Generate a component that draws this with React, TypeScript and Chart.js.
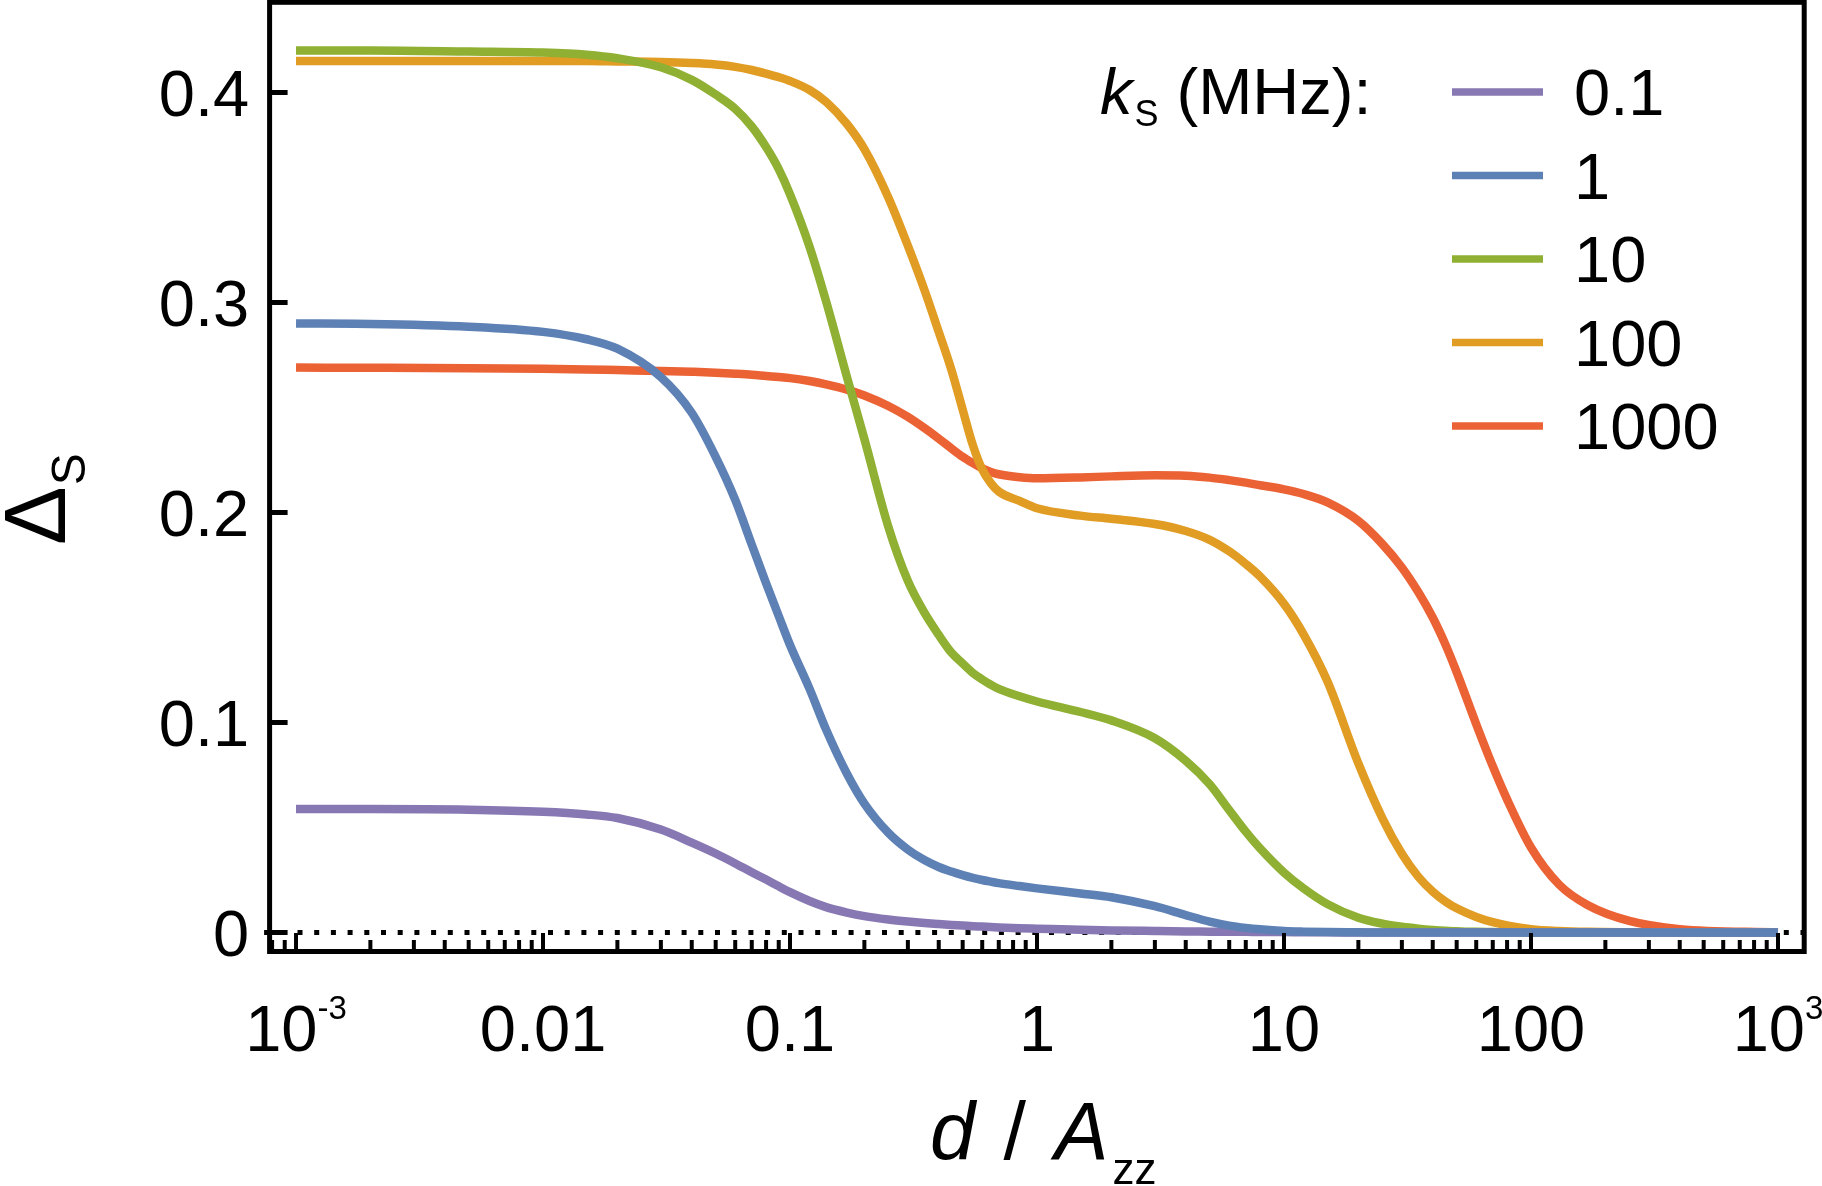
import { useEffect, useRef } from 'react';
import Chart from 'chart.js/auto';

// d / Azz sample points (shared by every curve)
const dValues = [
  0.001, 0.002, 0.005, 0.01, 0.015, 0.02, 0.03, 0.04, 0.05, 0.06, 0.07, 0.08,
  0.09, 0.1, 0.12, 0.14, 0.17, 0.2, 0.25, 0.3, 0.35, 0.4, 0.45, 0.5, 0.55, 0.6, 0.65, 0.7, 0.85, 1,
  1.5, 2, 3, 4, 5, 6, 7, 8,
  10, 12, 15, 20, 25, 30, 35, 40, 45, 50, 60, 70, 80, 100,
  130, 170, 250, 400, 1000,
];

// Delta_S for each k_S (MHz)
const ks01 = [
  0.0588, 0.0588, 0.0585, 0.0575, 0.0562, 0.0545, 0.049, 0.0428, 0.0376, 0.0329, 0.0287, 0.0252,
  0.022, 0.0192, 0.015, 0.0121, 0.0095, 0.0078, 0.0062, 0.0052, 0.0045, 0.004, 0.0036, 0.0033, 0.003, 0.0028, 0.0026, 0.0024, 0.002, 0.0018,
  0.0013, 0.001, 0.0007, 0.0005, 0.0004, 0.0003, 0.0003, 0.0002,
  0.0002, 0.0001, 0.0001, 0, 0, 0, 0, 0, 0, 0, 0, 0, 0, 0,
  0, 0, 0, 0, 0,
];
const ks1 = [
  0.29, 0.2898, 0.2885, 0.286, 0.2825, 0.278, 0.2645, 0.2475, 0.2265, 0.206, 0.1847, 0.1663,
  0.1507, 0.1369, 0.1160, 0.0966, 0.0756, 0.0614, 0.0475, 0.0395, 0.0345, 0.0312, 0.029, 0.0273, 0.026, 0.025, 0.0242, 0.0235, 0.0221, 0.021,
  0.0186, 0.0168, 0.0125, 0.0083, 0.0052, 0.0033, 0.0022, 0.0015,
  0.0007, 0.0004, 0.0002, 0.0001, 0, 0, 0, 0, 0, 0, 0, 0, 0, 0,
  0, 0, 0, 0, 0,
];
const ks10 = [
  0.42, 0.42, 0.4195, 0.419, 0.418, 0.4163, 0.412, 0.406, 0.399, 0.3922, 0.3838, 0.374,
  0.3635, 0.3515, 0.3265, 0.3005, 0.2645, 0.235, 0.1932, 0.1674, 0.1523, 0.1417, 0.1333, 0.1281, 0.1236, 0.1205, 0.118, 0.116, 0.1125, 0.11,
  0.105, 0.101, 0.0925, 0.0818, 0.0706, 0.0583, 0.048, 0.04,
  0.0285, 0.021, 0.0135, 0.007, 0.0042, 0.0027, 0.0018, 0.0012, 0.0008, 0.0006, 0.0003, 0.0002, 0.0001, 0,
  0, 0, 0, 0, 0,
];
const ks100 = [
  0.415, 0.415, 0.415, 0.415, 0.415, 0.4148, 0.4145, 0.414, 0.4133, 0.4122, 0.4107, 0.409,
  0.4073, 0.4055, 0.4012, 0.3955, 0.385, 0.373, 0.35, 0.327, 0.306, 0.286, 0.268, 0.249, 0.232, 0.2205, 0.214, 0.21, 0.2055, 0.202,
  0.1985, 0.197, 0.1945, 0.1912, 0.187, 0.1815, 0.1755, 0.1695,
  0.1565, 0.142, 0.1195, 0.0805, 0.0545, 0.0375, 0.0265, 0.0195, 0.0148, 0.0115, 0.0074, 0.0049, 0.0034, 0.0016,
  0.0007, 0.0003, 0.0001, 0, 0,
];
const ks1000 = [
  0.269, 0.2689, 0.2687, 0.2684, 0.2681, 0.2678, 0.2674, 0.267, 0.2666, 0.2661, 0.2656, 0.265,
  0.2645, 0.264, 0.2626, 0.261, 0.2585, 0.2557, 0.2507, 0.2455, 0.2402, 0.2352, 0.2305, 0.2265, 0.2235, 0.221, 0.2193, 0.2182, 0.2168, 0.2163,
  0.2167, 0.2172, 0.2177, 0.2175, 0.2166, 0.2154, 0.2142, 0.213,
  0.211, 0.2088, 0.2048, 0.196, 0.185, 0.1738, 0.162, 0.15, 0.1372, 0.124, 0.0992, 0.0792, 0.0634, 0.0405,
  0.0228, 0.013, 0.0055, 0.0016, 0,
];

const seriesLabels = ['0.1', '1', '10', '100', '1000'];
const seriesColors = ['#8778B3', '#5E81B5', '#8FB032', '#E19C24', '#EB6235'];

const yTicks = [0, 0.1, 0.2, 0.3, 0.4];
const yTickLabels = ['0', '0.1', '0.2', '0.3', '0.4'];
const xTicks = [0.001, 0.01, 0.1, 1, 10, 100, 1000];
const xTickBase = ['10', '0.01', '0.1', '1', '10', '100', '10'];
const xTickSup = ['-3', '', '', '', '', '', '3'];

const FAMILY = '"Liberation Sans", Arial, sans-serif';
const font = (size: number, italic = false) => `${italic ? 'italic ' : ''}${size}px ${FAMILY}`;

const axesPlugin = {
  id: 'mmaAxes',
  beforeDatasetsDraw(chart: any) {
    const { ctx, chartArea, scales } = chart;
    const y0 = scales.y.getPixelForValue(0);
    ctx.save();
    ctx.strokeStyle = '#000';
    ctx.lineWidth = 5;
    ctx.setLineDash([5, 11.7]);
    ctx.beginPath();
    ctx.moveTo(chartArea.left - 5.5, y0);
    ctx.lineTo(chartArea.right, y0);
    ctx.stroke();
    ctx.restore();
  },
  afterDraw(chart: any) {
    const { ctx, chartArea, scales } = chart;
    const { left, right, top, bottom } = chartArea;
    const xs = scales.x;
    const ys = scales.y;
    ctx.save();
    ctx.strokeStyle = '#000';
    ctx.fillStyle = '#000';
    ctx.lineCap = 'butt';

    // frame
    ctx.lineWidth = 5;
    ctx.strokeRect(left, top, right - left, bottom - top);

    // y ticks + labels
    ctx.font = font(65);
    ctx.textAlign = 'right';
    ctx.textBaseline = 'alphabetic';
    yTicks.forEach((v, i) => {
      const py = ys.getPixelForValue(v);
      ctx.lineWidth = 5;
      ctx.beginPath();
      ctx.moveTo(left, py);
      ctx.lineTo(left + 18, py);
      ctx.stroke();
      ctx.fillText(yTickLabels[i], left - 20.5, py + 23.3);
    });

    // x ticks (inside, bottom only)
    ctx.lineWidth = 4;
    for (let e = -4; e <= 3; e++) {
      for (let m = 1; m <= 9; m++) {
        const v = m * Math.pow(10, e);
        if (v < xs.min || v > xs.max) continue;
        const px = xs.getPixelForValue(v);
        ctx.beginPath();
        ctx.moveTo(px, bottom);
        ctx.lineTo(px, bottom - (m === 1 ? 18.5 : 11.5));
        ctx.stroke();
      }
    }

    // x labels
    const base = 1051;
    xTicks.forEach((v, i) => {
      const px = xs.getPixelForValue(v);
      ctx.font = font(65);
      const wMain = ctx.measureText(xTickBase[i]).width;
      ctx.font = font(33);
      const wSup = xTickSup[i] ? ctx.measureText(xTickSup[i]).width : 0;
      const x0 = px - (wMain + wSup) / 2;
      ctx.textAlign = 'left';
      ctx.font = font(65);
      ctx.fillText(xTickBase[i], x0, base);
      if (xTickSup[i]) {
        ctx.font = font(33);
        ctx.fillText(xTickSup[i], x0 + wMain, base - 32);
      }
    });

    // y title: Delta_S
    ctx.save();
    ctx.translate(65, 545);
    ctx.rotate(-Math.PI / 2);
    ctx.textAlign = 'left';
    ctx.font = font(88);
    ctx.fillText('Δ', 0, 0);
    const wD = ctx.measureText('Δ').width;
    ctx.font = font(48);
    ctx.fillText('S', wD + 1, 20);
    ctx.restore();

    // x title: d / A_zz
    ctx.textAlign = 'left';
    let tx = 930;
    const tb = 1159;
    ctx.font = font(81, true);
    ctx.fillText('d', tx, tb);
    tx += ctx.measureText('d').width;
    ctx.font = font(81);
    ctx.fillText(' / ', tx + 6, tb);
    tx += ctx.measureText(' / ').width + 12;
    ctx.font = font(81, true);
    ctx.fillText('A', tx, tb);
    tx += ctx.measureText('A').width + 4;
    ctx.font = font(44);
    ctx.fillText('zz', tx, 1184);

    // legend
    let lx = 1100;
    const lb = 114;
    ctx.font = font(65, true);
    ctx.fillText('k', lx, lb);
    lx += ctx.measureText('k').width + 2;
    ctx.font = font(36);
    ctx.fillText('S', lx, lb + 12);
    lx += ctx.measureText('S').width;
    ctx.font = font(65);
    ctx.fillText(' (MHz):', lx, lb);

    seriesLabels.forEach((lab, i) => {
      const ry = 92 + i * 83.5;
      ctx.strokeStyle = seriesColors[i];
      ctx.lineWidth = 7.5;
      ctx.beginPath();
      ctx.moveTo(1452, ry);
      ctx.lineTo(1543, ry);
      ctx.stroke();
      ctx.fillStyle = '#000';
      ctx.font = font(65);
      ctx.fillText(lab, 1574, ry + 23.3);
    });

    ctx.restore();
  },
};

export default function App() {
  const canvasRef = useRef<HTMLCanvasElement>(null);
  const chartRef = useRef<Chart | null>(null);

  useEffect(() => {
    document.body.style.margin = '0';
    document.body.style.overflow = 'hidden';
    if (!canvasRef.current) return;
    if (chartRef.current) {
      chartRef.current.destroy();
    }
    const ctx = canvasRef.current.getContext('2d');
    if (!ctx) return;

    const seriesValues = [ks01, ks1, ks10, ks100, ks1000];

    chartRef.current = new Chart(ctx, {
      type: 'line',
      data: {
        datasets: seriesValues.map((vals, i) => ({
          label: seriesLabels[i],
          data: dValues.map((d, j) => ({ x: d, y: vals[j] })),
          borderColor: seriesColors[i],
          backgroundColor: seriesColors[i],
          borderWidth: 8.5,
          pointRadius: 0,
          fill: false,
          cubicInterpolationMode: 'monotone',
          borderCapStyle: 'butt',
          order: i === 1 ? 0 : 1,
        })),
      },
      options: {
        responsive: false,
        devicePixelRatio: 1,
        animation: false,
        events: [],
        layout: { padding: { left: 269.6, top: 2.3, right: 17.8, bottom: 234.5 } },
        plugins: {
          legend: { display: false },
          tooltip: { enabled: false },
        },
        scales: {
          x: {
            type: 'logarithmic',
            min: Math.pow(10, -3.107),
            max: Math.pow(10, 3.106),
            display: false,
          },
          y: {
            type: 'linear',
            min: -0.00905,
            max: 0.44295,
            display: false,
          },
        },
      },
      plugins: [axesPlugin],
    } as any);

    return () => {
      if (chartRef.current) {
        chartRef.current.destroy();
        chartRef.current = null;
      }
    };
  }, []);

  return (
    <div style={{ width: 1822, height: 1186, background: '#fff' }}>
      <canvas ref={canvasRef} width={1822} height={1186} style={{ display: 'block' }} />
    </div>
  );
}
